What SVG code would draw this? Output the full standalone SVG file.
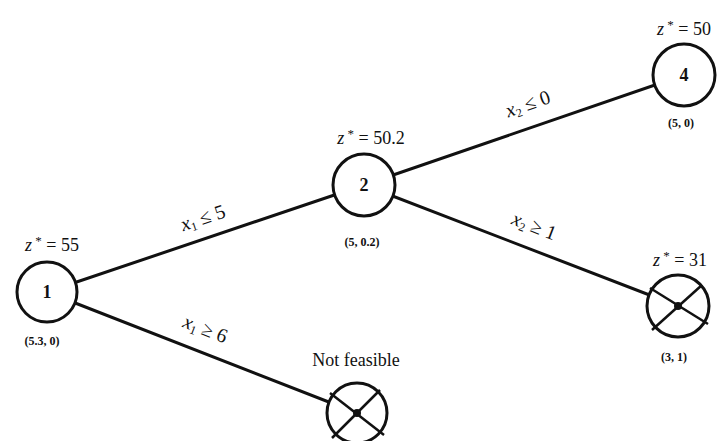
<svg xmlns="http://www.w3.org/2000/svg" width="726" height="441" viewBox="0 0 726 441">
<style>
.edge{stroke:#111;stroke-width:3;fill:none;stroke-linecap:round}
.node{fill:#fff;stroke:#111;stroke-width:3}
.cross{stroke:#111;stroke-width:2.5}
text,tspan{font-family:"Liberation Serif","Times New Roman",serif}
.t{fill:#111}
.z{font-size:18px}
.num{font-size:18px;font-weight:bold}
.sol{font-size:12px;font-weight:bold}
.lab{font-size:20px}
</style>
<rect width="726" height="441" fill="#fff"/>
<g id="connectors">
<line class="edge" x1="47" y1="292" x2="364" y2="185"/>
<line class="edge" x1="47" y1="292" x2="357" y2="413"/>
<line class="edge" x1="364" y1="185" x2="684" y2="75"/>
<line class="edge" x1="364" y1="185" x2="678" y2="306"/>
<text class="t lab" transform="translate(205,224) rotate(-18.6)" text-anchor="middle"><tspan font-style="italic">x</tspan><tspan font-size="12" dy="3">1</tspan><tspan dy="-3"> ≤ 5</tspan></text>
<text class="t lab" transform="translate(203,335) rotate(21.3)" text-anchor="middle"><tspan font-style="italic">x</tspan><tspan font-size="12" dy="3">1</tspan><tspan dy="-3"> ≥ 6</tspan></text>
<text class="t lab" transform="translate(530,110) rotate(-19)" text-anchor="middle"><tspan font-style="italic">x</tspan><tspan font-size="12" dy="3">2</tspan><tspan dy="-3"> ≤ 0</tspan></text>
<text class="t lab" transform="translate(532,232) rotate(21)" text-anchor="middle"><tspan font-style="italic">x</tspan><tspan font-size="12" dy="3">2</tspan><tspan dy="-3"> ≥ 1</tspan></text>
</g>
<g id="node1">
<circle class="node" cx="47" cy="292" r="30"/>
<text class="t num" x="47" y="298" text-anchor="middle">1</text>
<text class="t z" x="52" y="251" text-anchor="middle"><tspan font-style="italic">z</tspan><tspan dy="-6" font-size="13"> *</tspan><tspan dy="6"> = 55</tspan></text>
<text class="t sol" x="42" y="345" text-anchor="middle">(5.3, 0)</text>
</g>
<g id="node2">
<circle class="node" cx="364" cy="185" r="31"/>
<text class="t num" x="364" y="191" text-anchor="middle">2</text>
<text class="t z" x="371" y="144" text-anchor="middle"><tspan font-style="italic">z</tspan><tspan dy="-6" font-size="13"> *</tspan><tspan dy="6"> = 50.2</tspan></text>
<text class="t sol" x="362" y="246" text-anchor="middle">(5, 0.2)</text>
</g>
<g id="node4">
<circle class="node" cx="684" cy="75" r="31"/>
<text class="t num" x="684" y="81" text-anchor="middle">4</text>
<text class="t z" x="684" y="35" text-anchor="middle"><tspan font-style="italic">z</tspan><tspan dy="-6" font-size="13"> *</tspan><tspan dy="6"> = 50</tspan></text>
<text class="t sol" x="681" y="127" text-anchor="middle">(5, 0)</text>
</g>
<g id="node3">
<circle class="node" cx="678" cy="306" r="31"/>
<line class="cross" x1="650" y1="288" x2="708" y2="324"/>
<line class="cross" x1="702" y1="285" x2="652" y2="330"/>
<circle cx="678" cy="306" r="4" fill="#111"/>
<text class="t z" x="680" y="266" text-anchor="middle"><tspan font-style="italic">z</tspan><tspan dy="-6" font-size="13"> *</tspan><tspan dy="6"> = 31</tspan></text>
<text class="t sol" x="674" y="361" text-anchor="middle">(3, 1)</text>
</g>
<g id="nodeNF">
<circle class="node" cx="357" cy="413" r="30"/>
<line class="cross" x1="330" y1="393" x2="384" y2="435"/>
<line class="cross" x1="380" y1="390" x2="332" y2="438"/>
<circle cx="357" cy="413" r="4" fill="#111"/>
<text class="t z" x="356" y="366" text-anchor="middle">Not feasible</text>
</g>
</svg>
